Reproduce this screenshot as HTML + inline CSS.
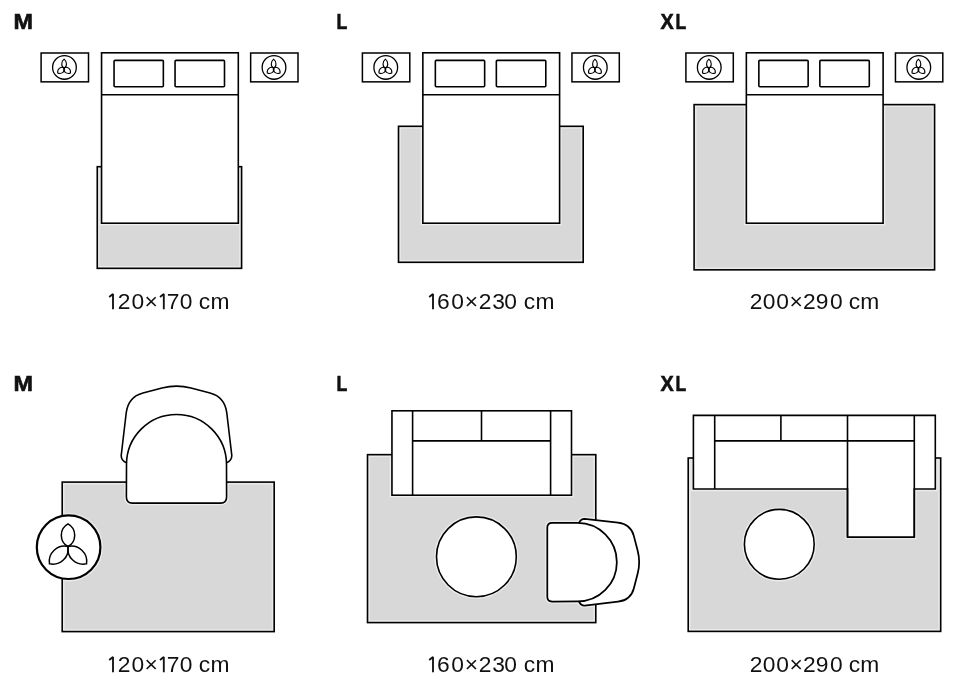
<!DOCTYPE html>
<html><head><meta charset="utf-8"><title>Rug sizes</title>
<style>
html,body{margin:0;padding:0;background:#fff;}
body{width:960px;height:690px;overflow:hidden;font-family:"Liberation Sans",sans-serif;}
svg{display:block;will-change:transform;}
</style></head>
<body>
<svg width="960" height="690" viewBox="0 0 960 690">
<rect width="960" height="690" fill="#fff"/>
<rect x="97.25" y="166.7" width="144.35" height="101.65" fill="#d8d8d8"/>
<rect x="98.05" y="167.5" width="142.75" height="55.7" fill="#e6e6e6"/>
<rect x="398.5" y="126.3" width="184.7" height="136.0" fill="#d8d8d8"/>
<rect x="694.1" y="104.6" width="240.5" height="165.25" fill="#d8d8d8"/>
<rect x="62.2" y="482.1" width="212.0" height="149.5" fill="#d8d8d8"/>
<rect x="367.5" y="454.65" width="228.3" height="167.95" fill="#d8d8d8"/>
<rect x="688.2" y="458" width="252.5" height="173.4" fill="#d8d8d8"/>
<rect x="689.0" y="458.8" width="250.9" height="30.2" fill="#e6e6e6"/>
<rect x="101.55" y="52.8" width="136.75" height="170.4" rx="0" fill="none" stroke="#fff" stroke-width="4.40" stroke-opacity="0.5" />
<rect x="422.85" y="52.8" width="136.75" height="170.4" rx="0" fill="none" stroke="#fff" stroke-width="4.40" stroke-opacity="0.5" />
<rect x="746.3499999999999" y="52.8" width="136.75" height="170.4" rx="0" fill="none" stroke="#fff" stroke-width="4.40" stroke-opacity="0.5" />
<g><path d="M126.6,462.8 Q121.2,460.8 121.2,455.5 L126.2,413 C127.53,401.66 132.57,395.63 143,392.9 L162,387.96 Q176.5,384.19 191,387.96 L210,392.9 C220.43,395.63 225.47,401.66 226.8,413 L231.8,455.5 Q231.8,460.8 226.4,462.8 Z" fill="none" stroke="#fff" stroke-width="4.40" stroke-opacity="0.5" stroke-linejoin="round"/><path d="M126.5,464.5 A50,50 0 0 1 226.5,464.5 L226.6,497 Q226.6,503.1 220.6,503.1 L132.4,503.1 Q126.4,503.1 126.4,497 Z" fill="none" stroke="#fff" stroke-width="4.40" stroke-opacity="0.5"/></g>
<circle cx="68.6" cy="547.2" r="31.8" fill="none" stroke="#fff" stroke-width="5.00" stroke-opacity="0.5"/>
<path d="M68.00,546.50 A12.92,12.92 0 0 1 68.00,523.85 A12.92,12.92 0 0 1 68.00,546.50Z" fill="none" stroke="#fff" stroke-width="4.30" stroke-opacity="0.5"/>
<path d="M68.00,546.50 A15.32,15.32 0 0 1 49.47,563.79 A15.32,15.32 0 0 1 68.00,546.50Z" fill="none" stroke="#fff" stroke-width="4.30" stroke-opacity="0.5"/>
<path d="M68.00,546.50 A15.32,15.32 0 0 1 86.54,563.79 A15.32,15.32 0 0 1 68.00,546.50Z" fill="none" stroke="#fff" stroke-width="4.30" stroke-opacity="0.5"/>
<rect x="391.95" y="410.8" width="179.55" height="84.4" rx="0" fill="none" stroke="#fff" stroke-width="4.40" stroke-opacity="0.5" />
<circle cx="476.4" cy="556.8" r="39.9" fill="none" stroke="#fff" stroke-width="4.40" stroke-opacity="0.5"/>
<g transform="translate(547.3 562.2) rotate(90) scale(0.785) translate(-176.5 -503.1)"><path d="M126.6,462.8 Q121.2,460.8 121.2,455.5 L126.2,413 C127.53,401.66 132.57,395.63 143,392.9 L162,387.96 Q176.5,384.19 191,387.96 L210,392.9 C220.43,395.63 225.47,401.66 226.8,413 L231.8,455.5 Q231.8,460.8 226.4,462.8 Z" fill="none" stroke="#fff" stroke-width="5.80" stroke-opacity="0.5" stroke-linejoin="round"/><path d="M126.5,464.5 A50,50 0 0 1 226.5,464.5 L226.6,497 Q226.6,503.1 220.6,503.1 L132.4,503.1 Q126.4,503.1 126.4,497 Z" fill="none" stroke="#fff" stroke-width="5.80" stroke-opacity="0.5"/></g>
<path d="M693.4,415.4 L935.3,415.4 L935.3,489 L914.3,489 L914.3,537.1 L847.5,537.1 L847.5,489 L693.4,489 Z" fill="none" stroke="#fff" stroke-width="4.40" stroke-opacity="0.5"/>
<circle cx="779.3" cy="544.3" r="34.9" fill="none" stroke="#fff" stroke-width="4.40" stroke-opacity="0.5"/>
<rect x="98.90" y="168.35" width="141.05" height="98.35" fill="none" stroke="#e9e9e9" stroke-width="1.5"/>
<rect x="98.05" y="167.5" width="142.75" height="55.7" fill="#e6e6e6"/>
<rect x="97.25" y="166.7" width="144.35" height="101.65" fill="none" stroke="#000" stroke-width="1.6"/>
<rect x="400.15" y="127.95" width="181.40" height="132.70" fill="none" stroke="#e9e9e9" stroke-width="1.5"/>
<rect x="398.5" y="126.3" width="184.7" height="136.0" fill="none" stroke="#000" stroke-width="1.6"/>
<rect x="695.75" y="106.25" width="237.20" height="161.95" fill="none" stroke="#e9e9e9" stroke-width="1.5"/>
<rect x="694.1" y="104.6" width="240.5" height="165.25" fill="none" stroke="#000" stroke-width="1.6"/>
<rect x="63.85" y="483.75" width="208.70" height="146.20" fill="none" stroke="#e9e9e9" stroke-width="1.5"/>
<rect x="62.2" y="482.1" width="212.0" height="149.5" fill="none" stroke="#000" stroke-width="1.6"/>
<rect x="369.15" y="456.30" width="225.00" height="164.65" fill="none" stroke="#e9e9e9" stroke-width="1.5"/>
<rect x="367.5" y="454.65" width="228.3" height="167.95" fill="none" stroke="#000" stroke-width="1.6"/>
<rect x="689.85" y="459.65" width="249.20" height="170.10" fill="none" stroke="#e9e9e9" stroke-width="1.5"/>
<rect x="689.0" y="458.8" width="250.9" height="30.2" fill="#e6e6e6"/>
<rect x="688.2" y="458" width="252.5" height="173.4" fill="none" stroke="#000" stroke-width="1.6"/>
<rect x="101.55" y="52.8" width="136.75" height="170.4" rx="0" fill="#fff" stroke="#000" stroke-width="1.6" />
<line x1="101.55" y1="94.7" x2="238.3" y2="94.7" stroke="#000" stroke-width="1.6"/>
<rect x="114.05" y="60.35" width="49.3" height="26.4" rx="1" fill="#fff" stroke="#000" stroke-width="1.6" />
<rect x="175.05" y="60.35" width="49.45" height="26.4" rx="1" fill="#fff" stroke="#000" stroke-width="1.6" />
<rect x="41.1" y="53" width="47.4" height="28.85" rx="0" fill="#fff" stroke="#000" stroke-width="1.5" />
<rect x="250.65" y="53" width="47.35" height="28.85" rx="0" fill="#fff" stroke="#000" stroke-width="1.5" />
<circle cx="64.45" cy="67.4" r="11.85" fill="#fff" stroke="#000" stroke-width="1.3"/>
<path transform="translate(64.10 68.10) rotate(-90)" d="M0,0 C0.90,3.13 6.75,3.13 9.00,0 C6.75,-3.13 0.90,-3.13 0,0Z" fill="none" stroke="#000" stroke-width="1.1"/>
<path transform="translate(64.10 68.10) rotate(143)" d="M0,0 C0.80,3.60 6.00,3.60 8.00,0 C6.00,-3.60 0.80,-3.60 0,0Z" fill="none" stroke="#000" stroke-width="1.1"/>
<path transform="translate(64.10 68.10) rotate(37)" d="M0,0 C0.80,3.60 6.00,3.60 8.00,0 C6.00,-3.60 0.80,-3.60 0,0Z" fill="none" stroke="#000" stroke-width="1.1"/>
<circle cx="274.0" cy="67.4" r="11.85" fill="#fff" stroke="#000" stroke-width="1.3"/>
<path transform="translate(273.65 68.10) rotate(-90)" d="M0,0 C0.90,3.13 6.75,3.13 9.00,0 C6.75,-3.13 0.90,-3.13 0,0Z" fill="none" stroke="#000" stroke-width="1.1"/>
<path transform="translate(273.65 68.10) rotate(143)" d="M0,0 C0.80,3.60 6.00,3.60 8.00,0 C6.00,-3.60 0.80,-3.60 0,0Z" fill="none" stroke="#000" stroke-width="1.1"/>
<path transform="translate(273.65 68.10) rotate(37)" d="M0,0 C0.80,3.60 6.00,3.60 8.00,0 C6.00,-3.60 0.80,-3.60 0,0Z" fill="none" stroke="#000" stroke-width="1.1"/>
<rect x="422.85" y="52.8" width="136.75" height="170.4" rx="0" fill="#fff" stroke="#000" stroke-width="1.6" />
<line x1="422.85" y1="94.7" x2="559.6" y2="94.7" stroke="#000" stroke-width="1.6"/>
<rect x="435.35" y="60.35" width="49.3" height="26.4" rx="1" fill="#fff" stroke="#000" stroke-width="1.6" />
<rect x="496.35" y="60.35" width="49.45" height="26.4" rx="1" fill="#fff" stroke="#000" stroke-width="1.6" />
<rect x="362.40000000000003" y="53" width="47.4" height="28.85" rx="0" fill="#fff" stroke="#000" stroke-width="1.5" />
<rect x="571.95" y="53" width="47.35" height="28.85" rx="0" fill="#fff" stroke="#000" stroke-width="1.5" />
<circle cx="385.75" cy="67.4" r="11.85" fill="#fff" stroke="#000" stroke-width="1.3"/>
<path transform="translate(385.40 68.10) rotate(-90)" d="M0,0 C0.90,3.13 6.75,3.13 9.00,0 C6.75,-3.13 0.90,-3.13 0,0Z" fill="none" stroke="#000" stroke-width="1.1"/>
<path transform="translate(385.40 68.10) rotate(143)" d="M0,0 C0.80,3.60 6.00,3.60 8.00,0 C6.00,-3.60 0.80,-3.60 0,0Z" fill="none" stroke="#000" stroke-width="1.1"/>
<path transform="translate(385.40 68.10) rotate(37)" d="M0,0 C0.80,3.60 6.00,3.60 8.00,0 C6.00,-3.60 0.80,-3.60 0,0Z" fill="none" stroke="#000" stroke-width="1.1"/>
<circle cx="595.3" cy="67.4" r="11.85" fill="#fff" stroke="#000" stroke-width="1.3"/>
<path transform="translate(594.95 68.10) rotate(-90)" d="M0,0 C0.90,3.13 6.75,3.13 9.00,0 C6.75,-3.13 0.90,-3.13 0,0Z" fill="none" stroke="#000" stroke-width="1.1"/>
<path transform="translate(594.95 68.10) rotate(143)" d="M0,0 C0.80,3.60 6.00,3.60 8.00,0 C6.00,-3.60 0.80,-3.60 0,0Z" fill="none" stroke="#000" stroke-width="1.1"/>
<path transform="translate(594.95 68.10) rotate(37)" d="M0,0 C0.80,3.60 6.00,3.60 8.00,0 C6.00,-3.60 0.80,-3.60 0,0Z" fill="none" stroke="#000" stroke-width="1.1"/>
<rect x="746.3499999999999" y="52.8" width="136.75" height="170.4" rx="0" fill="#fff" stroke="#000" stroke-width="1.6" />
<line x1="746.3499999999999" y1="94.7" x2="883.0999999999999" y2="94.7" stroke="#000" stroke-width="1.6"/>
<rect x="758.8499999999999" y="60.35" width="49.3" height="26.4" rx="1" fill="#fff" stroke="#000" stroke-width="1.6" />
<rect x="819.8499999999999" y="60.35" width="49.45" height="26.4" rx="1" fill="#fff" stroke="#000" stroke-width="1.6" />
<rect x="685.9" y="53" width="47.4" height="28.85" rx="0" fill="#fff" stroke="#000" stroke-width="1.5" />
<rect x="895.4499999999999" y="53" width="47.35" height="28.85" rx="0" fill="#fff" stroke="#000" stroke-width="1.5" />
<circle cx="709.25" cy="67.4" r="11.85" fill="#fff" stroke="#000" stroke-width="1.3"/>
<path transform="translate(708.90 68.10) rotate(-90)" d="M0,0 C0.90,3.13 6.75,3.13 9.00,0 C6.75,-3.13 0.90,-3.13 0,0Z" fill="none" stroke="#000" stroke-width="1.1"/>
<path transform="translate(708.90 68.10) rotate(143)" d="M0,0 C0.80,3.60 6.00,3.60 8.00,0 C6.00,-3.60 0.80,-3.60 0,0Z" fill="none" stroke="#000" stroke-width="1.1"/>
<path transform="translate(708.90 68.10) rotate(37)" d="M0,0 C0.80,3.60 6.00,3.60 8.00,0 C6.00,-3.60 0.80,-3.60 0,0Z" fill="none" stroke="#000" stroke-width="1.1"/>
<circle cx="918.8" cy="67.4" r="11.85" fill="#fff" stroke="#000" stroke-width="1.3"/>
<path transform="translate(918.45 68.10) rotate(-90)" d="M0,0 C0.90,3.13 6.75,3.13 9.00,0 C6.75,-3.13 0.90,-3.13 0,0Z" fill="none" stroke="#000" stroke-width="1.1"/>
<path transform="translate(918.45 68.10) rotate(143)" d="M0,0 C0.80,3.60 6.00,3.60 8.00,0 C6.00,-3.60 0.80,-3.60 0,0Z" fill="none" stroke="#000" stroke-width="1.1"/>
<path transform="translate(918.45 68.10) rotate(37)" d="M0,0 C0.80,3.60 6.00,3.60 8.00,0 C6.00,-3.60 0.80,-3.60 0,0Z" fill="none" stroke="#000" stroke-width="1.1"/>
<g><path d="M126.6,462.8 Q121.2,460.8 121.2,455.5 L126.2,413 C127.53,401.66 132.57,395.63 143,392.9 L162,387.96 Q176.5,384.19 191,387.96 L210,392.9 C220.43,395.63 225.47,401.66 226.8,413 L231.8,455.5 Q231.8,460.8 226.4,462.8 Z" fill="#fff" stroke="#000" stroke-width="1.6" stroke-linejoin="round"/><path d="M126.5,464.5 A50,50 0 0 1 226.5,464.5 L226.6,497 Q226.6,503.1 220.6,503.1 L132.4,503.1 Q126.4,503.1 126.4,497 Z" fill="#fff" stroke="#000" stroke-width="1.6"/></g>
<circle cx="68.6" cy="547.2" r="31.8" fill="#fff" stroke="#000" stroke-width="2.2"/>
<path d="M68.00,546.50 A12.92,12.92 0 0 1 68.00,523.85 A12.92,12.92 0 0 1 68.00,546.50Z" fill="none" stroke="#000" stroke-width="1.5"/>
<path d="M68.00,546.50 A15.32,15.32 0 0 1 49.47,563.79 A15.32,15.32 0 0 1 68.00,546.50Z" fill="none" stroke="#000" stroke-width="1.5"/>
<path d="M68.00,546.50 A15.32,15.32 0 0 1 86.54,563.79 A15.32,15.32 0 0 1 68.00,546.50Z" fill="none" stroke="#000" stroke-width="1.5"/>
<rect x="391.95" y="410.8" width="179.55" height="84.4" rx="0" fill="#fff" stroke="#000" stroke-width="1.6" />
<line x1="412.6" y1="410.8" x2="412.6" y2="495.2" stroke="#000" stroke-width="1.6"/>
<line x1="550.6" y1="410.8" x2="550.6" y2="495.2" stroke="#000" stroke-width="1.6"/>
<line x1="412.6" y1="440.9" x2="550.6" y2="440.9" stroke="#000" stroke-width="1.6"/>
<line x1="481.5" y1="410.8" x2="481.5" y2="440.9" stroke="#000" stroke-width="1.6"/>
<circle cx="476.4" cy="556.8" r="39.9" fill="#fff" stroke="#000" stroke-width="1.6"/>
<g transform="translate(547.3 562.2) rotate(90) scale(0.785) translate(-176.5 -503.1)"><path d="M126.6,462.8 Q121.2,460.8 121.2,455.5 L126.2,413 C127.53,401.66 132.57,395.63 143,392.9 L162,387.96 Q176.5,384.19 191,387.96 L210,392.9 C220.43,395.63 225.47,401.66 226.8,413 L231.8,455.5 Q231.8,460.8 226.4,462.8 Z" fill="#fff" stroke="#000" stroke-width="2.229299363057325" stroke-linejoin="round"/><path d="M126.5,464.5 A50,50 0 0 1 226.5,464.5 L226.6,497 Q226.6,503.1 220.6,503.1 L132.4,503.1 Q126.4,503.1 126.4,497 Z" fill="#fff" stroke="#000" stroke-width="2.229299363057325"/></g>
<path d="M693.4,415.4 L935.3,415.4 L935.3,489 L914.3,489 L914.3,537.1 L847.5,537.1 L847.5,489 L693.4,489 Z" fill="#fff" stroke="#000" stroke-width="1.6"/>
<line x1="714.7" y1="415.4" x2="714.7" y2="489" stroke="#000" stroke-width="1.6"/>
<line x1="914.3" y1="415.4" x2="914.3" y2="537.1" stroke="#000" stroke-width="1.6"/>
<line x1="847.5" y1="415.4" x2="847.5" y2="537.1" stroke="#000" stroke-width="1.6"/>
<line x1="714.7" y1="440.9" x2="914.3" y2="440.9" stroke="#000" stroke-width="1.6"/>
<line x1="780.9" y1="415.4" x2="780.9" y2="440.9" stroke="#000" stroke-width="1.6"/>
<circle cx="779.3" cy="544.3" r="34.9" fill="#fff" stroke="#000" stroke-width="1.6"/>
<path d="M109.20,296.90 L113.00,293.90 V309.20" fill="none" stroke="#111" stroke-width="1.85" stroke-linejoin="bevel"/>
<text transform="translate(117.75 309.2) scale(1.0 1)" font-family="Liberation Sans" font-size="22.8" fill="#111">2</text>
<text transform="translate(131.51 309.2) scale(1.0 1)" font-family="Liberation Sans" font-size="22.8" fill="#111">0</text>
<text transform="translate(144.42 309.2) scale(1.0 1)" font-family="Liberation Sans" font-size="22.8" fill="#111">×</text>
<path d="M160.00,296.90 L163.80,293.90 V309.20" fill="none" stroke="#111" stroke-width="1.85" stroke-linejoin="bevel"/>
<text transform="translate(166.63 309.2) scale(1.0 1)" font-family="Liberation Sans" font-size="22.8" fill="#111">7</text>
<text transform="translate(179.81 309.2) scale(1.0 1)" font-family="Liberation Sans" font-size="22.8" fill="#111">0</text>
<text transform="translate(198.83 309.2) scale(1.0 1)" font-family="Liberation Sans" font-size="22.8" fill="#111">c</text>
<text transform="translate(210.49 309.2) scale(1.0 1)" font-family="Liberation Sans" font-size="22.8" fill="#111">m</text>
<path d="M429.20,296.90 L433.00,293.90 V309.20" fill="none" stroke="#111" stroke-width="1.85" stroke-linejoin="bevel"/>
<text transform="translate(437.04 309.2) scale(1.0 1)" font-family="Liberation Sans" font-size="22.8" fill="#111">6</text>
<text transform="translate(451.21 309.2) scale(1.0 1)" font-family="Liberation Sans" font-size="22.8" fill="#111">0</text>
<text transform="translate(464.72 309.2) scale(1.0 1)" font-family="Liberation Sans" font-size="22.8" fill="#111">×</text>
<text transform="translate(478.65 309.2) scale(1.0 1)" font-family="Liberation Sans" font-size="22.8" fill="#111">2</text>
<text transform="translate(492.23 309.2) scale(1.0 1)" font-family="Liberation Sans" font-size="22.8" fill="#111">3</text>
<text transform="translate(504.21 309.2) scale(1.0 1)" font-family="Liberation Sans" font-size="22.8" fill="#111">0</text>
<text transform="translate(523.83 309.2) scale(1.0 1)" font-family="Liberation Sans" font-size="22.8" fill="#111">c</text>
<text transform="translate(535.39 309.2) scale(1.0 1)" font-family="Liberation Sans" font-size="22.8" fill="#111">m</text>
<text transform="translate(749.65 309.2) scale(1.0 1)" font-family="Liberation Sans" font-size="22.8" fill="#111">2</text>
<text transform="translate(762.71 309.2) scale(1.0 1)" font-family="Liberation Sans" font-size="22.8" fill="#111">0</text>
<text transform="translate(776.21 309.2) scale(1.0 1)" font-family="Liberation Sans" font-size="22.8" fill="#111">0</text>
<text transform="translate(789.42 309.2) scale(1.0 1)" font-family="Liberation Sans" font-size="22.8" fill="#111">×</text>
<text transform="translate(802.95 309.2) scale(1.0 1)" font-family="Liberation Sans" font-size="22.8" fill="#111">2</text>
<text transform="translate(815.83 309.2) scale(1.0 1)" font-family="Liberation Sans" font-size="22.8" fill="#111">9</text>
<text transform="translate(829.91 309.2) scale(1.0 1)" font-family="Liberation Sans" font-size="22.8" fill="#111">0</text>
<text transform="translate(848.83 309.2) scale(1.0 1)" font-family="Liberation Sans" font-size="22.8" fill="#111">c</text>
<text transform="translate(860.29 309.2) scale(1.0 1)" font-family="Liberation Sans" font-size="22.8" fill="#111">m</text>
<path d="M109.20,659.90 L113.00,656.90 V672.20" fill="none" stroke="#111" stroke-width="1.85" stroke-linejoin="bevel"/>
<text transform="translate(117.75 672.2) scale(1.0 1)" font-family="Liberation Sans" font-size="22.8" fill="#111">2</text>
<text transform="translate(131.51 672.2) scale(1.0 1)" font-family="Liberation Sans" font-size="22.8" fill="#111">0</text>
<text transform="translate(144.42 672.2) scale(1.0 1)" font-family="Liberation Sans" font-size="22.8" fill="#111">×</text>
<path d="M160.00,659.90 L163.80,656.90 V672.20" fill="none" stroke="#111" stroke-width="1.85" stroke-linejoin="bevel"/>
<text transform="translate(166.63 672.2) scale(1.0 1)" font-family="Liberation Sans" font-size="22.8" fill="#111">7</text>
<text transform="translate(179.81 672.2) scale(1.0 1)" font-family="Liberation Sans" font-size="22.8" fill="#111">0</text>
<text transform="translate(198.83 672.2) scale(1.0 1)" font-family="Liberation Sans" font-size="22.8" fill="#111">c</text>
<text transform="translate(210.49 672.2) scale(1.0 1)" font-family="Liberation Sans" font-size="22.8" fill="#111">m</text>
<path d="M429.20,659.90 L433.00,656.90 V672.20" fill="none" stroke="#111" stroke-width="1.85" stroke-linejoin="bevel"/>
<text transform="translate(437.04 672.2) scale(1.0 1)" font-family="Liberation Sans" font-size="22.8" fill="#111">6</text>
<text transform="translate(451.21 672.2) scale(1.0 1)" font-family="Liberation Sans" font-size="22.8" fill="#111">0</text>
<text transform="translate(464.72 672.2) scale(1.0 1)" font-family="Liberation Sans" font-size="22.8" fill="#111">×</text>
<text transform="translate(478.65 672.2) scale(1.0 1)" font-family="Liberation Sans" font-size="22.8" fill="#111">2</text>
<text transform="translate(492.23 672.2) scale(1.0 1)" font-family="Liberation Sans" font-size="22.8" fill="#111">3</text>
<text transform="translate(504.21 672.2) scale(1.0 1)" font-family="Liberation Sans" font-size="22.8" fill="#111">0</text>
<text transform="translate(523.83 672.2) scale(1.0 1)" font-family="Liberation Sans" font-size="22.8" fill="#111">c</text>
<text transform="translate(535.39 672.2) scale(1.0 1)" font-family="Liberation Sans" font-size="22.8" fill="#111">m</text>
<text transform="translate(749.65 672.2) scale(1.0 1)" font-family="Liberation Sans" font-size="22.8" fill="#111">2</text>
<text transform="translate(762.71 672.2) scale(1.0 1)" font-family="Liberation Sans" font-size="22.8" fill="#111">0</text>
<text transform="translate(776.21 672.2) scale(1.0 1)" font-family="Liberation Sans" font-size="22.8" fill="#111">0</text>
<text transform="translate(789.42 672.2) scale(1.0 1)" font-family="Liberation Sans" font-size="22.8" fill="#111">×</text>
<text transform="translate(802.95 672.2) scale(1.0 1)" font-family="Liberation Sans" font-size="22.8" fill="#111">2</text>
<text transform="translate(815.83 672.2) scale(1.0 1)" font-family="Liberation Sans" font-size="22.8" fill="#111">9</text>
<text transform="translate(829.91 672.2) scale(1.0 1)" font-family="Liberation Sans" font-size="22.8" fill="#111">0</text>
<text transform="translate(848.83 672.2) scale(1.0 1)" font-family="Liberation Sans" font-size="22.8" fill="#111">c</text>
<text transform="translate(860.29 672.2) scale(1.0 1)" font-family="Liberation Sans" font-size="22.8" fill="#111">m</text>
<text transform="translate(13.44 28.9) scale(1.100 1)" font-family="Liberation Sans" font-weight="bold" font-size="21.2" fill="#111" stroke="#111" stroke-width="0.6">M</text>
<text transform="translate(336.61 28.9) scale(0.836 1)" font-family="Liberation Sans" font-weight="bold" font-size="21.2" fill="#111" stroke="#111" stroke-width="0.6">L</text>
<text transform="translate(660.43 28.9) scale(0.937 1)" font-family="Liberation Sans" font-weight="bold" font-size="21.2" fill="#111" stroke="#111" stroke-width="0.6">X</text>
<text transform="translate(675.43 28.9) scale(0.827 1)" font-family="Liberation Sans" font-weight="bold" font-size="21.2" fill="#111" stroke="#111" stroke-width="0.6">L</text>
<text transform="translate(13.44 391.4) scale(1.100 1)" font-family="Liberation Sans" font-weight="bold" font-size="21.2" fill="#111" stroke="#111" stroke-width="0.6">M</text>
<text transform="translate(336.61 391.4) scale(0.836 1)" font-family="Liberation Sans" font-weight="bold" font-size="21.2" fill="#111" stroke="#111" stroke-width="0.6">L</text>
<text transform="translate(660.43 391.4) scale(0.937 1)" font-family="Liberation Sans" font-weight="bold" font-size="21.2" fill="#111" stroke="#111" stroke-width="0.6">X</text>
<text transform="translate(675.43 391.4) scale(0.827 1)" font-family="Liberation Sans" font-weight="bold" font-size="21.2" fill="#111" stroke="#111" stroke-width="0.6">L</text>
</svg>
</body></html>
